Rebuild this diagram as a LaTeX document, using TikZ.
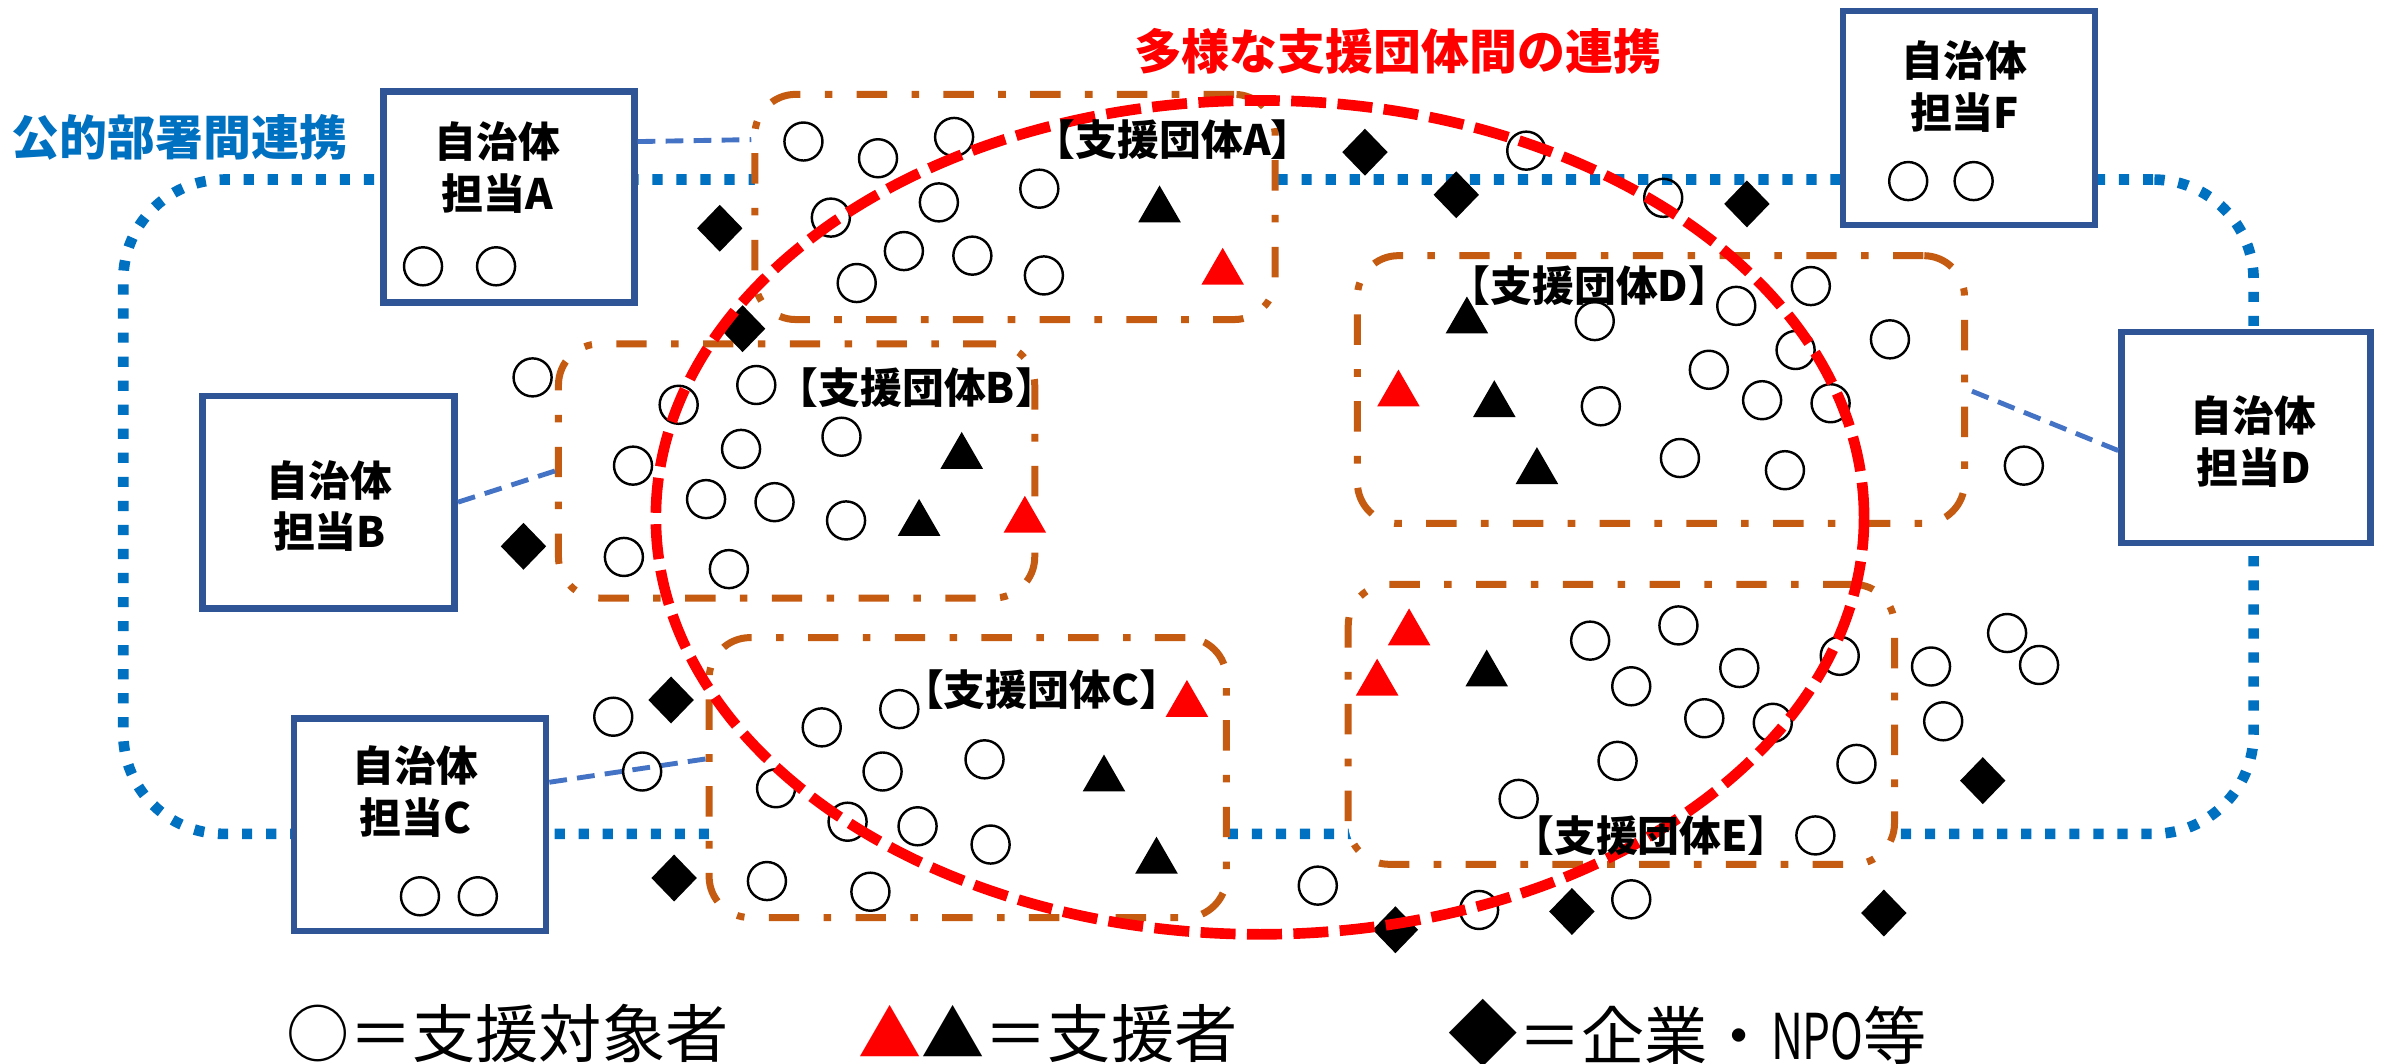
\documentclass[tikz,border=0pt]{standalone}
\usepackage{fontspec}
\newfontfamily\jp{Noto Sans CJK JP}
\usetikzlibrary{shapes.geometric,calc}
\definecolor{pubblue}{HTML}{0070C0}
\definecolor{boxblue}{HTML}{2F5597}
\definecolor{connblue}{HTML}{4472C4}
\definecolor{orgorange}{HTML}{C55A11}
\definecolor{redc}{HTML}{FF0000}
\begin{document}
\begin{tikzpicture}[x=1pt,y=-1pt,
  pubrect/.style={draw=pubblue, line width=7pt, dash pattern=on 6.7pt off 9.1pt, rounded corners=66pt, inner sep=0pt, outer sep=0pt},
  orgbox/.style={draw=orgorange, fill=white, line width=4.6pt, dash pattern=on 20pt off 16pt on 5pt off 16pt, rounded corners=27pt, inner sep=0pt},
  govbox/.style={draw=boxblue, fill=white, line width=4.4pt, inner sep=0pt},
  govtext/.style={font=\jp\bfseries\fontsize{27.5pt}{34pt}\selectfont, align=center, inner sep=0pt},
  grplabel/.style={font=\jp\bfseries\fontsize{27.5pt}{28pt}\selectfont, inner sep=0pt},
  conn/.style={draw=connblue, line width=3.2pt, dash pattern=on 11.7pt off 6.7pt},
  subj/.style={circle, draw=black, line width=1.6pt, minimum size=25pt, inner sep=0pt},
  supp/.style={regular polygon, regular polygon sides=3, minimum size=32.3pt, inner sep=0pt},
  corp/.style={diamond, fill=black, minimum width=30pt, minimum height=31pt, inner sep=0pt},
  coopring/.style={draw=redc, line width=7pt, dash pattern=on 23pt off 7.5pt, ellipse, inner sep=0pt},
  legendtext/.style={font=\jp\fontsize{41.5pt}{42pt}\selectfont, inner sep=0pt, anchor=west}
]
\useasboundingbox (0,0) rectangle (1568,699);
\fill[white] (0,0) rectangle (1568,699);

% public linkage loop
\node[pubrect, minimum width=1400pt, minimum height=430pt] (pub) at (781,333) {};

% support groups
\node[orgbox, minimum width=342pt, minimum height=148pt] (oA) at (667,136) {};
\node[orgbox, minimum width=313pt, minimum height=167pt] (oB) at (523.5,309.5) {};
\node[orgbox, minimum width=340pt, minimum height=184pt] (oC) at (636,511) {};
\node[orgbox, minimum width=399pt, minimum height=176pt] (oD) at (1091.5,256) {};
\node[orgbox, minimum width=359pt, minimum height=184pt] (oE) at (1065.5,476) {};

% municipality boxes
\node[govbox, minimum width=164.6pt, minimum height=138.6pt] (bA) at (334.5,129.5) {};
\node[govbox, minimum width=165.6pt, minimum height=139.6pt] (bB) at (216,330) {};
\node[govbox, minimum width=165.6pt, minimum height=139.6pt] (bC) at (276,542) {};
\node[govbox, minimum width=165.6pt, minimum height=140.6pt] (bF) at (1294,77.5) {};
\node[govbox, minimum width=163.6pt, minimum height=138.6pt] (bD) at (1476,287.5) {};

\node[govtext] (tA) at (327,110) {自治体\\担当A};
\node[govtext] (tB) at (216.5,332.5) {自治体\\担当B};
\node[govtext] (tC) at (273,520) {自治体\\担当C};
\node[govtext] (tF) at (1291,57) {自治体\\担当F};
\node[govtext] (tD) at (1481,290) {自治体\\担当D};

% connectors
\draw[conn] ($(bA.north east)!0.245!(bA.south east)$) -- ($(oA.north west)!0.21!(oA.south west)$);
\draw[conn] (bB.east) -- (oB.west);
\draw[conn] ($(bC.north east)!0.306!(bC.south east)$) -- ($(oC.north west)!0.435!(oC.south west)$);
\draw[conn] ($(bD.north west)!0.56!(bD.south west)$) -- (oD.east);

% persons supported
\foreach \px/\py [count=\i] in {278/175,326/175,1254/119,1297/119,276/589,314/589,
  528/93,577/104,627/90,683/124,546/143,617/133,594/165,639/168,563/186,686/181,
  350/248,497/253,446/266,553/287,487/295,416/306,464/328,509/330,556/342,410/366,479/374,
  403/471,422/507,591/466,540/478,580/507,647/499,510/518,557/540,603/543,651/555,504/579,572/586,
  1003/99,1093/130,1190/188,1048/211,1141/201,1242/223,1180/230,1123/243,1052/267,1158/263,1203/265,1104/301,1173/309,1330/306,
  1045/421,1103/411,1072/451,1143/439,1120/472,1165/475,1209/431,1063/500,1220/502,998/525,1193/549,1269/438,1319/416,1340/437,1277/474,
  866/582,972/598,1072/591}
  \node[subj] (s\i) at (\px,\py) {};

% supporters
\foreach \px/\py [count=\i] in {762/134,964/207,982/262,1010/306,632/296,604/340,725.5/508,760/562,977/439}
  \node[supp, fill=black] (k\i) at (\px,{\py+4}) {};
\foreach \px/\py [count=\i] in {803.5/175,919/255,673.5/338,780/459,926/412,905/445}
  \node[supp, fill=redc] (r\i) at (\px,{\py+4}) {};

% companies / NPO
\foreach \px/\py [count=\i] in {473/150,488/216,344/359,441/460,443/577,897/100,957/128,1148/134,917/611,1033/599,1238/600,1303/513}
  \node[corp] (d\i) at (\px,\py) {};

% cooperation ring
\node[coopring, minimum width=794pt, minimum height=548pt] (coop) at (828,340) {};

% group labels
\node[grplabel] (lA) at (771,92) {【支援団体A】};
\node[grplabel] (lB) at (602.5,255) {【支援団体B】};
\node[grplabel] (lC) at (684.5,453.5) {【支援団体C】};
\node[grplabel] (lD) at (1044.5,187.5) {【支援団体D】};
\node[grplabel] (lE) at (1085,549) {【支援団体E】};

% titles
\node[font=\jp\bfseries\fontsize{31.5pt}{32pt}\selectfont, text=pubblue, inner sep=0pt] (ttlpub) at (118,90) {公的部署間連携};
\node[font=\jp\bfseries\fontsize{31.5pt}{32pt}\selectfont, text=redc, inner sep=0pt] (ttlcoop) at (918.5,33.5) {多様な支援団体間の連携};

% legend
\node[legendtext] (lg1) at (188,679) {○＝支援対象者};
\node[legendtext] (lg2) at (564,679) {\textcolor{redc}{▲}▲＝支援者};
\node[legendtext] (lg3) at (952,679) {\scalebox{1.1}{◆}＝企業・\scalebox{0.7}[1]{NPO}等};
\end{tikzpicture}
\end{document}
